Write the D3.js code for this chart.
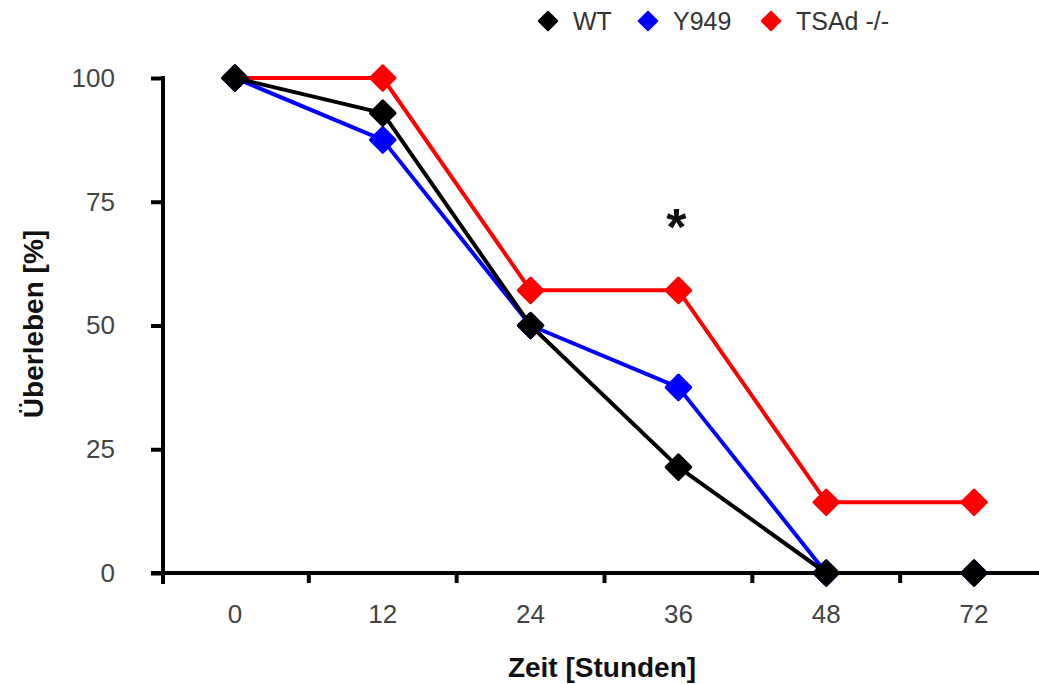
<!DOCTYPE html>
<html>
<head>
<meta charset="utf-8">
<script src="https://cdn.jsdelivr.net/npm/d3@7"></script>
<style>
  body { margin: 0; background: #fff; }
  text { font-family: "Liberation Sans", Arial, sans-serif; }
</style>
</head>
<body>
<svg id="chart" width="1039" height="684"></svg>
<script>
// data
let timePoints = ["0", "12", "24", "36", "48", "72"]
let wtValues = [100, 92.9, 50, 21.4, 0, 0]
let y949Values = [100, 87.5, 50, 37.5, 0, 0]
let tsadValues = [100, 100, 57.1, 57.1, 14.3, 14.3]
let yTicks = [0, 25, 50, 75, 100]

let seriesNames = ["WT", "Y949", "TSAd -/-"]
let seriesColors = ["#000000", "#0000ff", "#ff0000"]

let width = 1039, height = 684
let svg = d3.select("#chart")

// scales
let xScale = d3.scaleBand().domain(timePoints).range([161, 1048])
let yScale = d3.scaleLinear().domain([0, 100]).range([573, 78])

// y axis
let yAxis = d3.axisLeft(yScale).tickValues(yTicks).tickSize(12).tickPadding(36)
let yG = svg.append("g").attr("transform", "translate(163,0)").call(yAxis)
yG.select(".domain").remove()
yG.append("line").attr("x1", 0).attr("x2", 0).attr("y1", yScale(100) - 2).attr("y2", yScale(0) + 11)
    .attr("stroke", "#000").attr("stroke-width", 4)
yG.selectAll(".tick line").attr("stroke", "#000").attr("stroke-width", 4)
yG.selectAll(".tick text").attr("fill", "#444").attr("font-family", null).style("font-size", "26px")

// x axis: line plus small ticks between the groups
svg.append("line").attr("x1", 151).attr("x2", width).attr("y1", yScale(0)).attr("y2", yScale(0))
    .attr("stroke", "#000").attr("stroke-width", 4)
let boundaries = timePoints.slice(1).map(function(t) { return xScale(t) })
svg.selectAll(".x-minor").data(boundaries).enter().append("line")
    .attr("x1", function(d) { return d }).attr("x2", function(d) { return d })
    .attr("y1", yScale(0)).attr("y2", yScale(0) + 10)
    .attr("stroke", "#000").attr("stroke-width", 4)
svg.selectAll(".x-label").data(timePoints).enter().append("text")
    .attr("x", function(d) { return xScale(d) + xScale.bandwidth() / 2 })
    .attr("y", 623)
    .attr("text-anchor", "middle")
    .attr("fill", "#444")
    .style("font-size", "26px")
    .text(function(d) { return d })

// axis titles
svg.append("text").attr("x", 602).attr("y", 677).attr("text-anchor", "middle")
    .style("font-size", "28px").style("font-weight", "bold").attr("fill", "#111")
    .text("Zeit [Stunden]")
svg.append("text").attr("transform", "translate(43,324) rotate(-90)").attr("text-anchor", "middle")
    .style("font-size", "28px").style("font-weight", "bold").attr("fill", "#111")
    .text("Überleben [%]")

// series, drawn red first so black ends on top
let allSeries = [wtValues, y949Values, tsadValues]
let drawOrder = [2, 1, 0]
let diamond = d3.symbol().type(d3.symbolSquare).size(300)
let cx = function(i) { return xScale(timePoints[i]) + xScale.bandwidth() / 2 }
let line = d3.line().x(function(d, i) { return cx(i) }).y(function(d) { return yScale(d) })

for (let s of drawOrder) {
    let vals = allSeries[s]
    let g = svg.append("g")
    g.append("path").datum(vals).attr("d", line)
        .attr("fill", "none").attr("stroke", seriesColors[s]).attr("stroke-width", 4)
        .attr("stroke-linejoin", "round")
    g.selectAll("path.marker").data(vals).enter().append("path").attr("class", "marker")
        .attr("d", diamond)
        .attr("transform", function(d, i) { return `translate(${cx(i)},${yScale(d)}) rotate(45)` })
        .attr("fill", seriesColors[s]).attr("stroke", seriesColors[s]).attr("stroke-width", 3)
        .attr("stroke-linejoin", "round")
}

// significance marker
svg.append("text").attr("x", cx(3) - 2).attr("y", 245).attr("text-anchor", "middle")
    .style("font-size", "52px").style("font-weight", "bold").attr("fill", "#111").text("*")

// legend
let legendX = [548, 648, 771]
let legendSymbol = d3.symbol().type(d3.symbolSquare).size(170)
let legend = svg.selectAll(".legend").data(seriesNames).enter().append("g")
    .attr("transform", function(d, i) { return `translate(${legendX[i]},21)` })
legend.append("path").attr("d", legendSymbol).attr("transform", "rotate(45)")
    .attr("fill", function(d, i) { return seriesColors[i] })
    .attr("stroke", function(d, i) { return seriesColors[i] }).attr("stroke-width", 2)
    .attr("stroke-linejoin", "round")
legend.append("text").attr("x", 25).attr("y", 9)
    .attr("fill", "#333").style("font-size", "25px")
    .text(function(d) { return d })
</script>
</body>
</html>
